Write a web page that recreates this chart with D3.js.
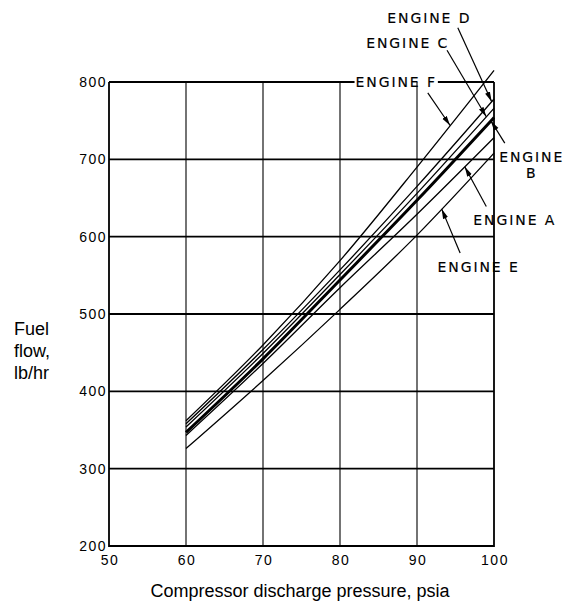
<!DOCTYPE html>
<html>
<head>
<meta charset="utf-8">
<script src="https://cdn.jsdelivr.net/npm/d3@7"></script>
<style>
  body { margin: 0; background: #fff; }
  svg { display: block; }
  .tick-label { font-family: "Liberation Sans", Arial, sans-serif; font-size: 14px; letter-spacing: 1.5px; fill: #000; }
  .engine-label { font-family: "DejaVu Sans", sans-serif; font-size: 14px; letter-spacing: 1.9px; fill: #000; stroke: #000; stroke-width: 0.15px; }
  .title { font-family: "Liberation Sans", Arial, sans-serif; font-size: 18px; fill: #000; }
</style>
</head>
<body>
<svg id="chart" width="568" height="608"></svg>
<script>
// data
var pressure = [60, 70, 80, 90, 100];
var engineA = [343, 436, 534, 629, 728];
var engineB = [347, 442, 544, 647, 754];
var engineC = [354, 449, 551, 656, 766];
var engineD = [358, 454, 557, 665, 778];
var engineE = [326, 414, 506, 602, 708];
var engineF = [362, 460, 569, 690, 815];

var xTicks = [50, 60, 70, 80, 90, 100];
var yTicks = [200, 300, 400, 500, 600, 700, 800];

var series = [
  {name: "A", values: engineA, width: 1.3},
  {name: "B", values: engineB, width: 3},
  {name: "C", values: engineC, width: 1.3},
  {name: "D", values: engineD, width: 1.3},
  {name: "E", values: engineE, width: 1.3},
  {name: "F", values: engineF, width: 1.3}
];

// label and arrow placement, in data units
var notes = [
  {text: ["ENGINE D"], lx: 91.6, ly: 876, tail: [95.3, 870], tip: {s: "D", x: 99.7}},
  {text: ["ENGINE C"], lx: 88.8, ly: 844, tail: [93.9, 841], tip: {s: "C", x: 99.0}},
  {text: ["ENGINE F"], lx: 87.3, ly: 793.5, tail: [91.4, 786], tip: {s: "F", x: 94.3}},
  {text: ["ENGINE", "B"], lx: 104.9, ly: 696.6, tail: [101.4, 721], tip: {s: "B", x: 99.6}},
  {text: ["ENGINE A"], lx: 102.7, ly: 615.7, tail: [99.0, 639], tip: {s: "A", x: 96.2}},
  {text: ["ENGINE E"], lx: 98.0, ly: 554.3, tail: [95.6, 579], tip: {s: "E", x: 93.2}}
];

var svg = d3.select("#chart");

var x = d3.scaleLinear().domain([50, 100]).range([109, 494]),
    y = d3.scaleLinear().domain([200, 800]).range([546, 82]);

var g = svg.append("g");

// grid
g.selectAll(".vgrid")
  .data(xTicks.slice(1, -1))
  .enter().append("line")
    .attr("x1", function(d) { return x(d); })
    .attr("x2", function(d) { return x(d); })
    .attr("y1", y(200)).attr("y2", y(800))
    .attr("stroke", "#000").attr("stroke-width", 1.1);

g.selectAll(".hgrid")
  .data(yTicks.slice(1, -1))
  .enter().append("line")
    .attr("x1", x(50)).attr("x2", x(100))
    .attr("y1", function(d) { return y(d); })
    .attr("y2", function(d) { return y(d); })
    .attr("stroke", "#000").attr("stroke-width", 1.8);

// frame (top edge drawn later around the F label)
g.append("path")
  .attr("d", "M" + x(100) + "," + y(800) + "V" + y(200) + "H" + x(50) + "V" + y(800))
  .attr("fill", "none").attr("stroke", "#000").attr("stroke-width", 1.8);

// tick labels
g.selectAll(".ylab")
  .data(yTicks)
  .enter().append("text")
    .attr("class", "tick-label")
    .attr("x", x(50) - 2)
    .attr("y", function(d) { return y(d); })
    .attr("dy", "0.36em")
    .attr("text-anchor", "end")
    .text(function(d) { return d; });

g.selectAll(".xlab")
  .data(xTicks)
  .enter().append("text")
    .attr("class", "tick-label")
    .attr("x", function(d) { return x(d) + 1; })
    .attr("y", y(200) + 19)
    .attr("text-anchor", "middle")
    .text(function(d) { return d; });

// axis titles
svg.append("text")
  .attr("class", "title")
  .attr("x", 300).attr("y", 597)
  .attr("text-anchor", "middle")
  .text("Compressor discharge pressure, psia");

svg.append("text")
  .attr("class", "title")
  .selectAll("tspan")
  .data(["Fuel", "flow,", "lb/hr"])
  .enter().append("tspan")
    .attr("x", 14)
    .attr("y", function(d, i) { return 335 + i * 22; })
    .text(function(d) { return d; });

// engine curves
var line = d3.line()
  .x(function(d) { return x(d[0]); })
  .y(function(d) { return y(d[1]); })
  .curve(d3.curveMonotoneX);

g.selectAll(".engine")
  .data(series)
  .enter().append("path")
    .attr("class", "engine")
    .attr("fill", "none")
    .attr("stroke", "#000")
    .attr("stroke-width", function(d) { return d.width; })
    .attr("d", function(d) { return line(d3.zip(pressure, d.values)); });

// annotations
svg.append("defs").append("marker")
  .attr("id", "head")
  .attr("markerUnits", "userSpaceOnUse")
  .attr("viewBox", "0 -3 10 6")
  .attr("markerWidth", 10).attr("markerHeight", 6)
  .attr("refX", 10).attr("refY", 0)
  .attr("orient", "auto")
  .append("path").attr("d", "M0,-2.6L10,0L0,2.6Z").attr("fill", "#000");

var byName = {};
series.forEach(function(s) { byName[s.name] = s; });

notes.forEach(function(n) {
  var s = byName[n.tip.s];
  var along = d3.scaleLinear().domain(pressure).range(s.values);
  g.append("line")
    .attr("x1", x(n.tail[0])).attr("y1", y(n.tail[1]))
    .attr("x2", x(n.tip.x)).attr("y2", y(along(n.tip.x)))
    .attr("stroke", "#000").attr("stroke-width", 1.2)
    .attr("marker-end", "url(#head)");

  var t = g.append("text").attr("class", "engine-label").attr("text-anchor", "middle");
  n.text.forEach(function(line, i) {
    t.append("tspan")
      .attr("x", x(n.lx))
      .attr("y", y(n.ly) + i * 16)
      .text(line);
  });
  n.node = t.node();
});

// top edge, broken around the ENGINE F label
var fBox = notes[2].node.getBBox();
g.append("line")
  .attr("x1", x(50)).attr("x2", fBox.x - 1)
  .attr("y1", y(800)).attr("y2", y(800))
  .attr("stroke", "#000").attr("stroke-width", 1.8);
g.append("line")
  .attr("x1", fBox.x + fBox.width + 1).attr("x2", x(100))
  .attr("y1", y(800)).attr("y2", y(800))
  .attr("stroke", "#000").attr("stroke-width", 1.8);
</script>
</body>
</html>
